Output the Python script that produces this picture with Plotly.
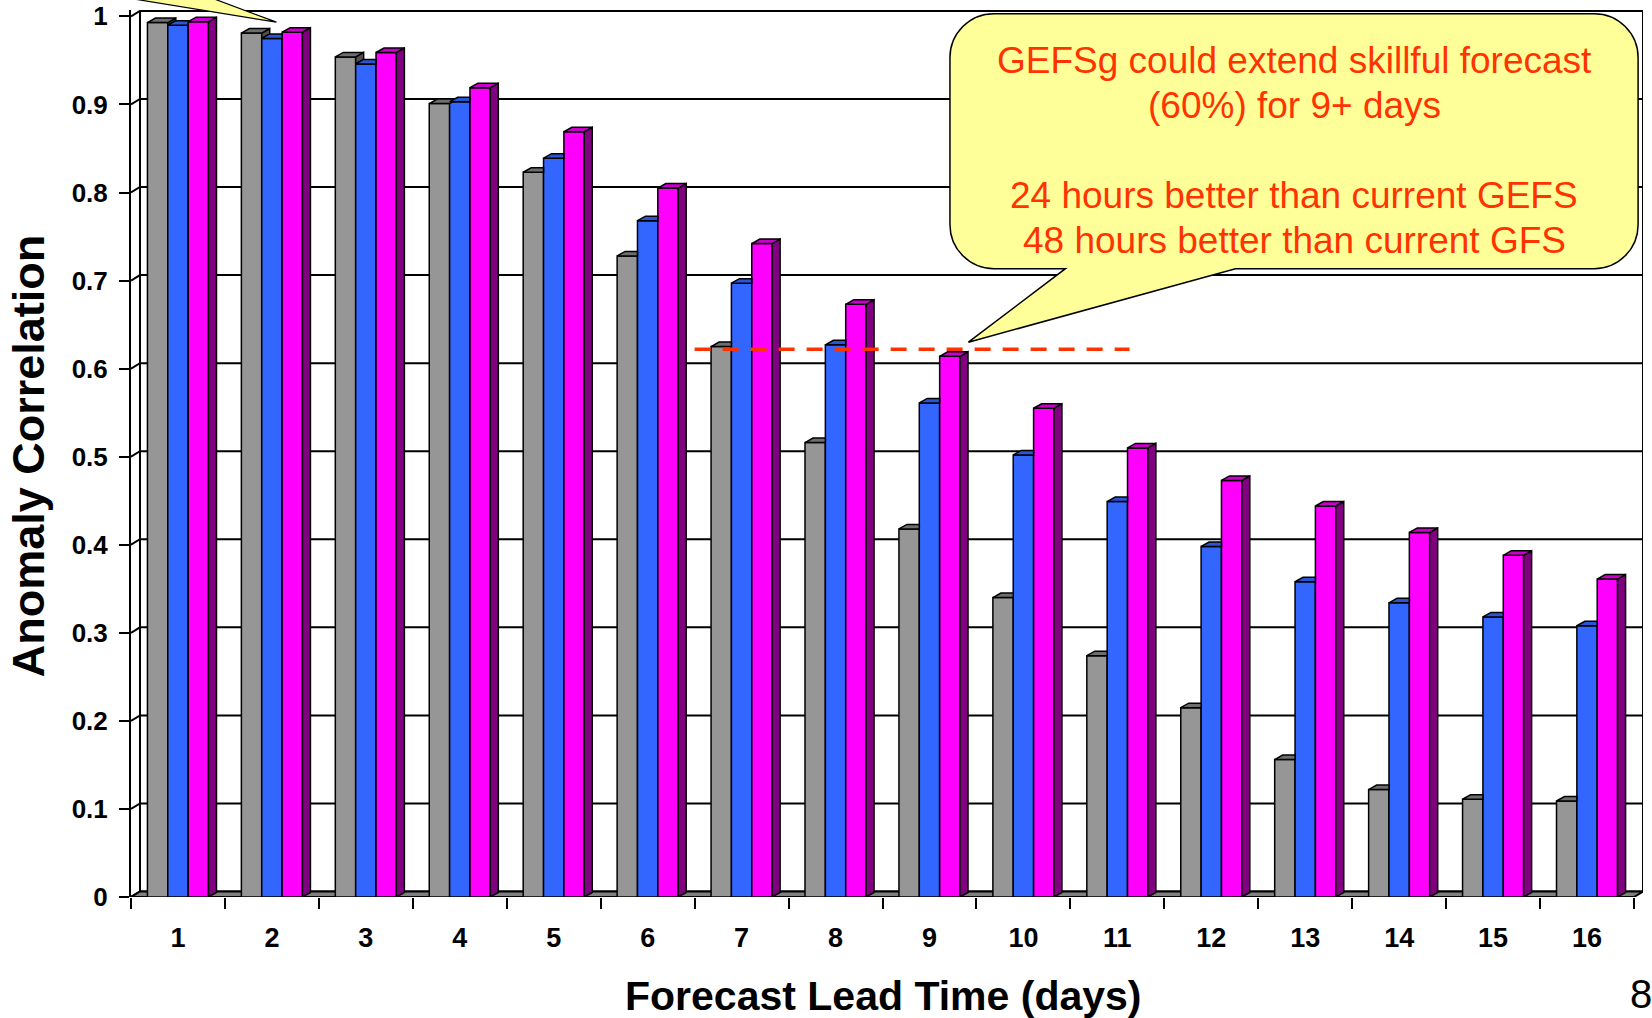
import plotly.graph_objects as go

# ---------------- data ----------------
days = list(range(1, 17))
day_labels = [str(d) for d in days]
series_names = ["GFS", "GEFS", "GEFSg"]
gfs = [0.993, 0.981, 0.954, 0.901, 0.823, 0.728, 0.625, 0.516,
       0.418, 0.340, 0.274, 0.215, 0.156, 0.122, 0.111, 0.109]
gefs = [0.990, 0.975, 0.946, 0.903, 0.839, 0.768, 0.697, 0.627,
        0.561, 0.502, 0.449, 0.398, 0.358, 0.334, 0.318, 0.308]
gefsg = [0.994, 0.982, 0.959, 0.919, 0.869, 0.805, 0.742, 0.673,
         0.614, 0.555, 0.510, 0.473, 0.444, 0.414, 0.388, 0.361]
y_ticks = [0, 0.1, 0.2, 0.3, 0.4, 0.5, 0.6, 0.7, 0.8, 0.9, 1.0]
y_tick_labels = ["0", "0.1", "0.2", "0.3", "0.4", "0.5", "0.6", "0.7", "0.8", "0.9", "1"]
skill_level = 0.622
skill_span = [6.5, 11.13]
callout_lines = ["GEFSg could extend skillful forecast",
                 "(60%) for 9+ days",
                 "24 hours better than current GEFS",
                 "48 hours better than current GFS"]

# ---------------- styling / geometry ----------------
FONT = "Liberation Sans, Arial, sans-serif"
W_PX, H_PX = 1652, 1018
L_PX, B_PX = 130.5, 897.3          # front axes origin in pixels
CAT_PX, UNIT_PX = 94.0, 880.6      # pixels per category, per unit of y
WALL_DX, WALL_DY = 9.0 / CAT_PX, 5.5 / UNIT_PX
BAR_DX, BAR_DY = 8.0 / CAT_PX, 4.5 / UNIT_PX
BARGAP = 0.35
x_range = [0.5, len(days) + 0.5 + WALL_DX]
y_range = [0, 1 + WALL_DY + 0.001]
plot_w = CAT_PX * (x_range[1] - x_range[0])
plot_h = UNIT_PX * (y_range[1] - y_range[0])
m_l, m_b = L_PX, H_PX - B_PX
m_r = W_PX - L_PX - plot_w
m_t = B_PX - plot_h

front_colors = ["#969696", "#3366FF", "#FF00FF"]
top_colors = ["#6E6E6E", "#2A55D5", "#CC00CC"]
side_colors = ["#505050", "#1F3FA0", "#800080"]


def pp(px, py):
    return (px - L_PX) / plot_w, (B_PX - py) / plot_h


fig = go.Figure()
series = [gfs, gefs, gefsg]
for name, vals, col in zip(series_names, series, front_colors):
    fig.add_trace(go.Bar(x=days, y=vals, name=name,
                         marker=dict(color=col, line=dict(color="black", width=1.5))))

# 3D faces derived from the same values
w = (1 - BARGAP) / 3
tops = [([], []) for _ in range(3)]
sides = [([], []) for _ in range(3)]
for k, d in enumerate(days):
    vals = [s[k] for s in series]
    for i in range(3):
        v = vals[i]
        l = d + (i - 1.5) * w
        r = l + w
        nxt = vals[i + 1] if i < 2 else 0.0
        tx, ty = tops[i]
        if i < 2 and nxt > v + BAR_DY / 2:
            tx += [l, r, r, l + BAR_DX, l, None]
            ty += [v, v, v + BAR_DY, v + BAR_DY, v, None]
        else:
            tx += [l, r, r + BAR_DX, l + BAR_DX, l, None]
            ty += [v, v, v + BAR_DY, v + BAR_DY, v, None]
        if v > nxt:
            sx, sy = sides[i]
            sx += [r, r, r + BAR_DX, r + BAR_DX, r, None]
            sy += [nxt, v, v + BAR_DY, nxt + BAR_DY, nxt, None]
for i in range(3):
    fig.add_trace(go.Scatter(x=sides[i][0], y=sides[i][1], mode="lines", fill="toself",
                             fillcolor=side_colors[i], line=dict(color="black", width=1.5),
                             hoverinfo="skip", showlegend=False))
    fig.add_trace(go.Scatter(x=tops[i][0], y=tops[i][1], mode="lines", fill="toself",
                             fillcolor=top_colors[i], line=dict(color="black", width=1.5),
                             hoverinfo="skip", showlegend=False))

# skill threshold dashed line
fig.add_trace(go.Scatter(x=skill_span, y=[skill_level, skill_level], mode="lines",
                         line=dict(color="#FF3300", width=3.5, dash="16px,12px"),
                         hoverinfo="skip", showlegend=False))

shapes = []
x0, x1 = 0.5, len(days) + 0.5
# back-wall grid lines with diagonal connectors
for t in y_ticks:
    shapes.append(dict(type="path", xref="x", yref="y", layer="below",
                       path=f"M {x0},{t} L {x0 + WALL_DX},{t + WALL_DY} L {x1 + WALL_DX},{t + WALL_DY}",
                       line=dict(color="black", width=2)))
for xv in (x0 + WALL_DX, x1 + WALL_DX):
    shapes.append(dict(type="line", xref="x", yref="y", layer="below",
                       x0=xv, x1=xv, y0=WALL_DY, y1=1 + WALL_DY,
                       line=dict(color="black", width=2)))
# floor
shapes.append(dict(type="path", xref="x", yref="y", layer="below",
                   path=f"M {x0},0 L {x1},0 L {x1 + WALL_DX},{WALL_DY} L {x0 + WALL_DX},{WALL_DY} Z",
                   fillcolor="#808080", line=dict(color="black", width=2)))

# callout bubble (pixel geometry -> paper)
bx0, bx1, by0, by1, rad = 950, 1638.6, 14, 269, 44
k = 0.552 * rad
tip = (968.5, 342.5)
pa, pb = 1065.5, 1235.7


def P(x, y):
    a, b = pp(x, y)
    return f"{a:.5f},{b:.5f}"


bubble = (f"M {P(bx0 + rad, by0)} L {P(bx1 - rad, by0)} "
          f"C {P(bx1 - rad + k, by0)} {P(bx1, by0 + rad - k)} {P(bx1, by0 + rad)} "
          f"L {P(bx1, by1 - rad)} "
          f"C {P(bx1, by1 - rad + k)} {P(bx1 - rad + k, by1)} {P(bx1 - rad, by1)} "
          f"L {P(pb, by1)} L {P(*tip)} L {P(pa, by1)} L {P(bx0 + rad, by1)} "
          f"C {P(bx0 + rad - k, by1)} {P(bx0, by1 - rad + k)} {P(bx0, by1 - rad)} "
          f"L {P(bx0, by0 + rad)} "
          f"C {P(bx0, by0 + rad - k)} {P(bx0 + rad - k, by0)} {P(bx0 + rad, by0)} Z")
shapes.append(dict(type="path", xref="paper", yref="paper", layer="above", path=bubble,
                   fillcolor="#FFFF99", line=dict(color="black", width=1.5)))
# pointer of a callout that lies above the visible area
wedge = f"M {P(113, -4)} L {P(276, 22.5)} L {P(205, -4)}"
shapes.append(dict(type="path", xref="paper", yref="paper", layer="above", path=wedge,
                   fillcolor="#FFFF99", line=dict(color="black", width=1.2)))

annotations = []
for txt, ypx in zip(callout_lines, [60.5, 105.5, 195.5, 240.5]):
    cx, cy = pp(1294.5, ypx)
    annotations.append(dict(xref="paper", yref="paper", x=cx, y=cy, text=txt,
                            showarrow=False, xanchor="center", yanchor="middle",
                            font=dict(family=FONT, size=37, color="#FF3300")))
tx_, ty_ = pp(882.5, 996)
annotations.append(dict(xref="paper", yref="paper", x=tx_, y=ty_, text="Forecast Lead Time (days)",
                        showarrow=False, xanchor="center", yanchor="middle",
                        font=dict(family=FONT, size=41, color="black", weight="bold")))
yx_, yy_ = pp(28, 456)
annotations.append(dict(xref="paper", yref="paper", x=yx_, y=yy_, text="Anomaly Correlation",
                        showarrow=False, xanchor="center", yanchor="middle", textangle=-90,
                        font=dict(family=FONT, size=45, color="black", weight="bold")))
sx_, sy_ = pp(1641, 994)
annotations.append(dict(xref="paper", yref="paper", x=sx_, y=sy_, text="8",
                        showarrow=False, xanchor="center", yanchor="middle",
                        font=dict(family=FONT, size=40, color="black")))

fig.update_layout(
    width=W_PX, height=H_PX,
    margin=dict(l=m_l, r=m_r, t=m_t, b=m_b, pad=0),
    paper_bgcolor="white", plot_bgcolor="white",
    barmode="group", bargap=BARGAP, bargroupgap=0,
    showlegend=False,
    shapes=shapes, annotations=annotations,
    font=dict(family=FONT, color="black"),
    xaxis=dict(range=x_range, tickmode="array", tickvals=days, ticktext=day_labels,
               ticks="", showline=False, showgrid=False, zeroline=False, automargin=False,
               tickfont=dict(family=FONT, size=27, color="black", weight="bold"),
               ticklabelstandoff=22,
               minor=dict(tickmode="array", tickvals=[d - 0.5 for d in days] + [days[-1] + 0.5],
                          ticks="outside", ticklen=11, tickwidth=2, tickcolor="black", showgrid=False)),
    yaxis=dict(range=y_range, tickmode="array", tickvals=y_ticks, ticktext=y_tick_labels,
               ticks="outside", ticklen=10, tickwidth=2, tickcolor="black",
               showline=True, linewidth=2, linecolor="black", showgrid=False, zeroline=False,
               automargin=False, ticklabelstandoff=6,
               tickfont=dict(family=FONT, size=26, color="black", weight="bold")),
)

fig.write_html("out.html")
